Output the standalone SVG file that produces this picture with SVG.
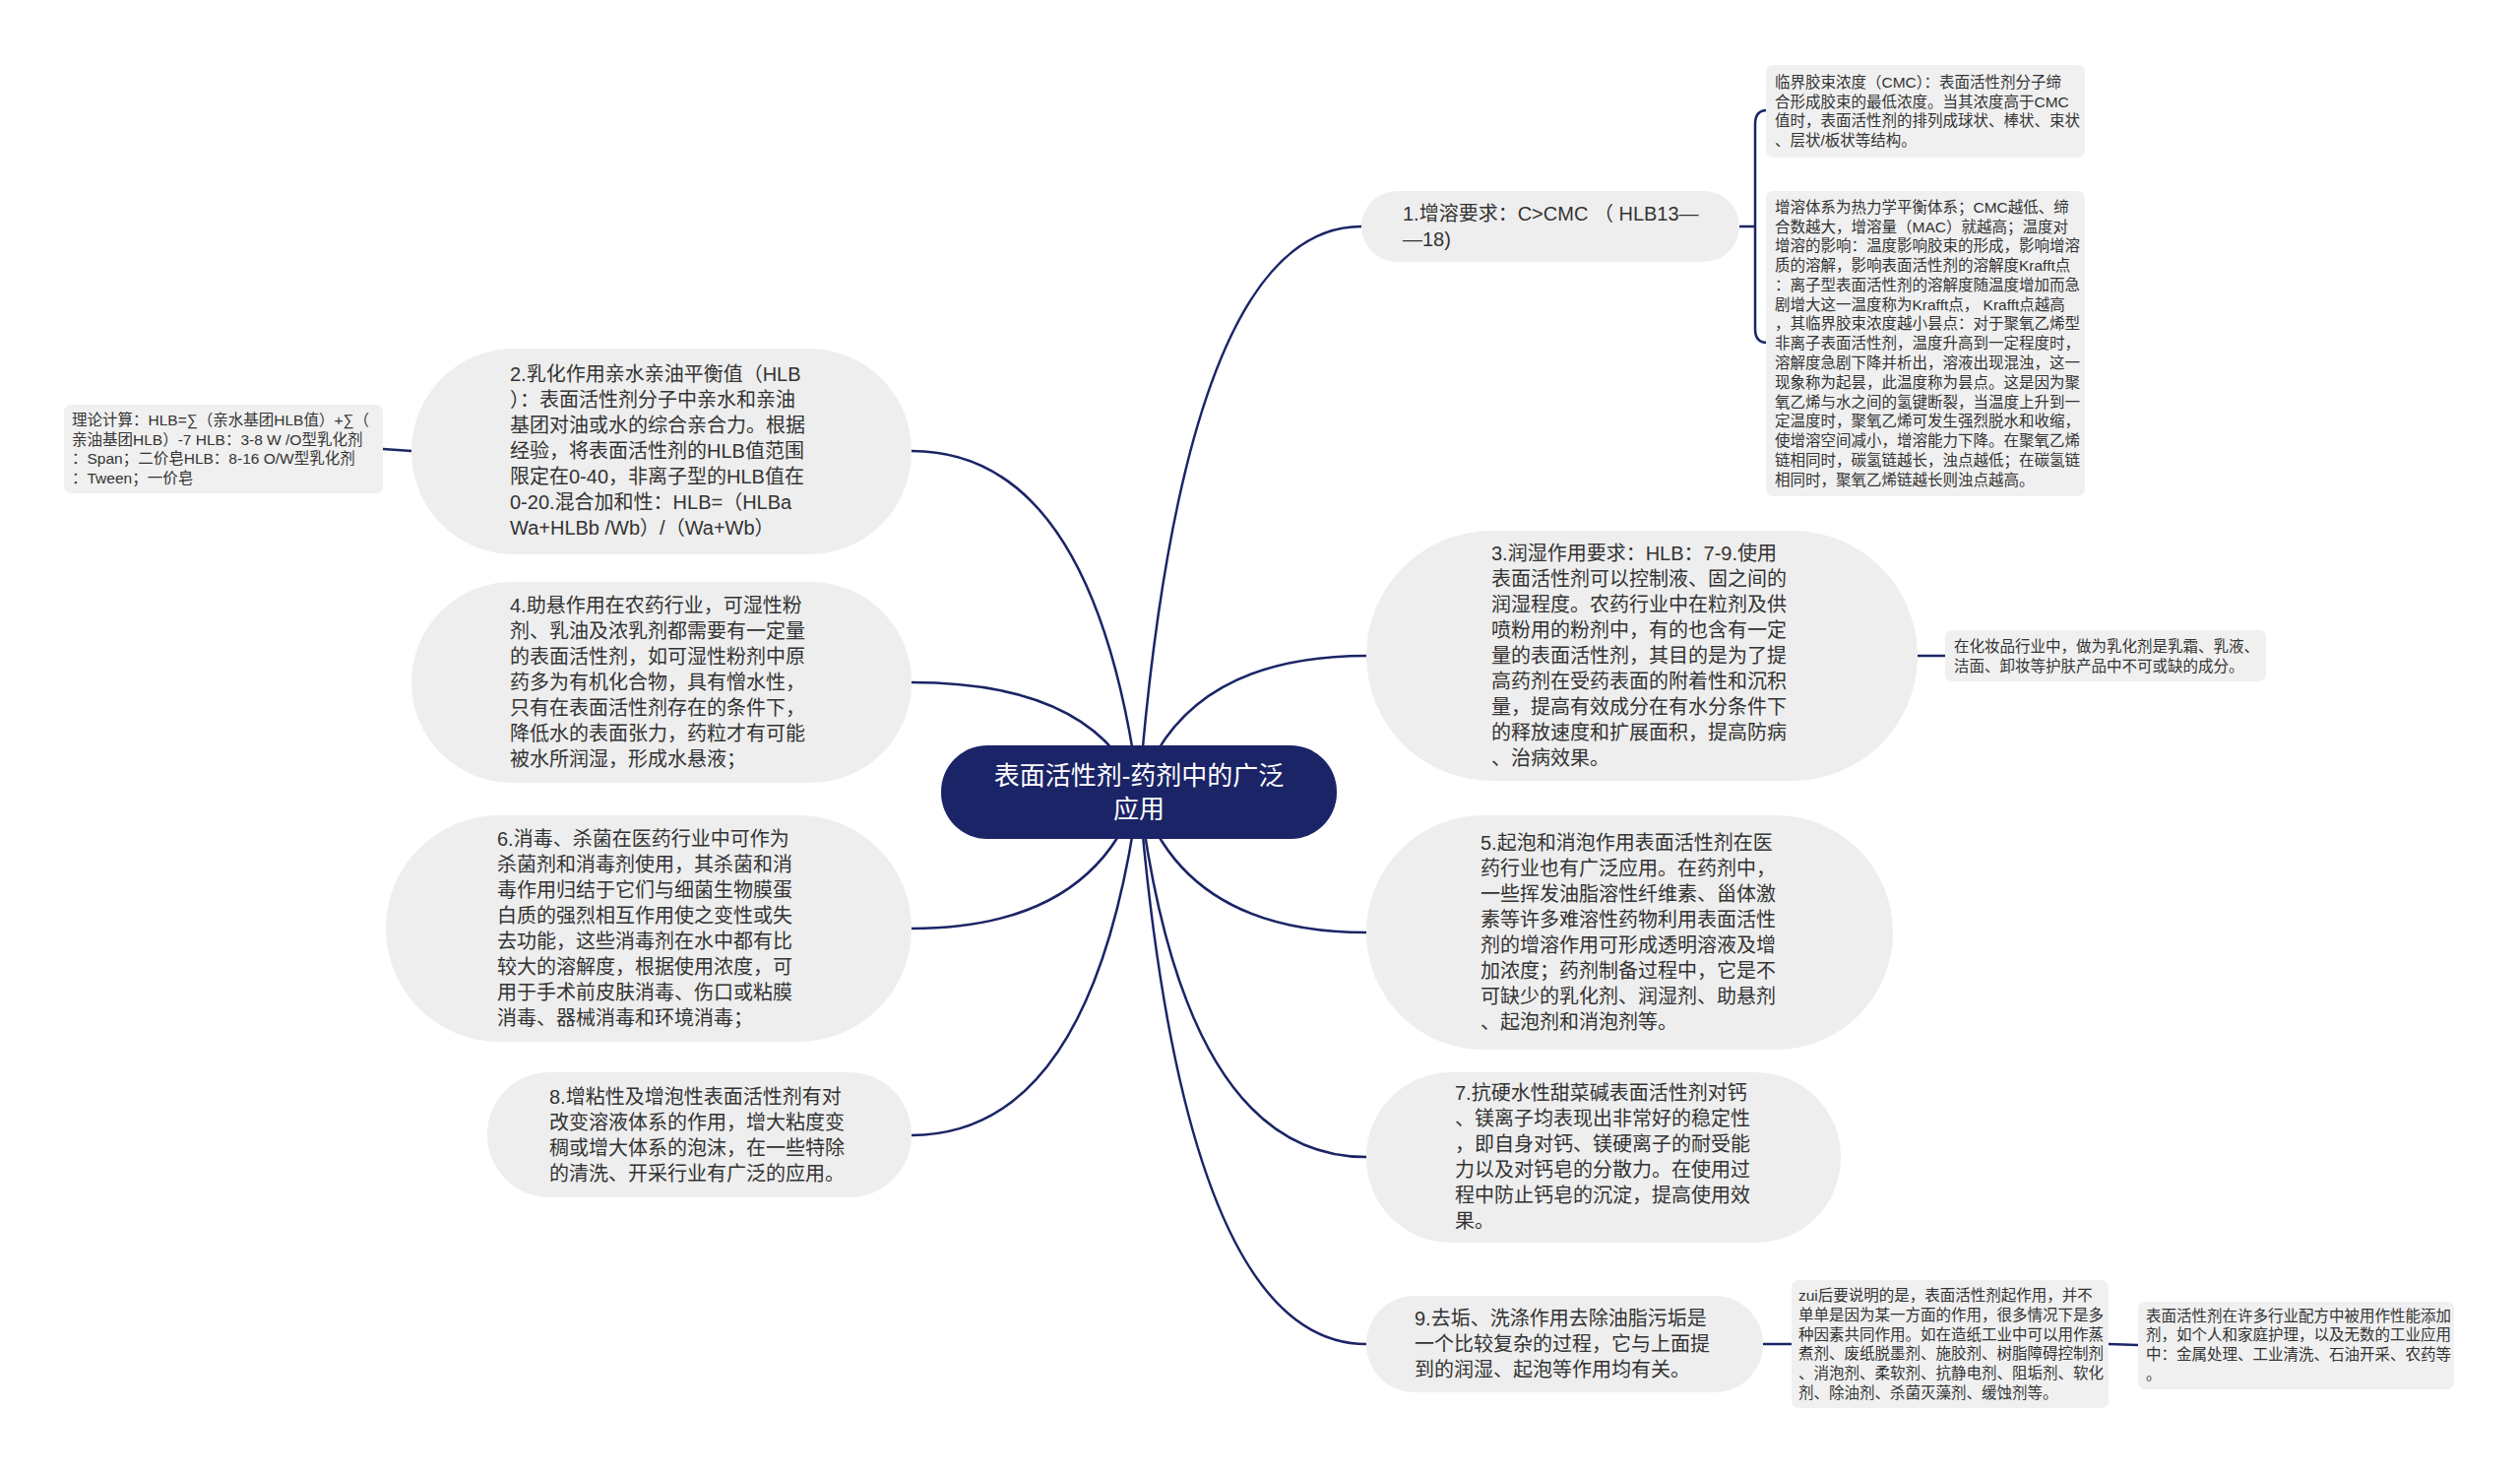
<svg xmlns="http://www.w3.org/2000/svg" width="2560" height="1499" viewBox="0 0 2560 1499">
<style>
.bg{fill:#ffffff}
.main{fill:#eeeeee}
.sub{fill:#f0f0f0}
.t{font-family:"Liberation Sans","Noto Sans CJK SC",sans-serif;font-size:20px;fill:#333333}
.s{font-family:"Liberation Sans","Noto Sans CJK SC",sans-serif;font-size:15.5px;fill:#333333}
.c{font-family:"Liberation Sans","Noto Sans CJK SC",sans-serif;font-size:26px;fill:#ffffff}
.ln{fill:none;stroke:#1b2466;stroke-width:2.5}
</style>
<rect class="bg" x="0" y="0" width="2560" height="1499"/>
<g id="connectors">
<path class="ln" d="M1157 804 Q1203 230 1383 230"/>
<path class="ln" d="M1157 804 Q1203 666 1388 666"/>
<path class="ln" d="M1157 804 Q1203 947 1388 947"/>
<path class="ln" d="M1157 804 Q1203 1175 1388 1175"/>
<path class="ln" d="M1157 804 Q1203 1365 1388 1365"/>
<path class="ln" d="M1157 804 Q1111 458 926 458"/>
<path class="ln" d="M1157 804 Q1111 693 926 693"/>
<path class="ln" d="M1157 804 Q1111 943 926 943"/>
<path class="ln" d="M1157 804 Q1111 1153 926 1153"/>
<path class="ln" d="M1767 230 L1783 230 M1795 112 Q1783 112 1783 126 L1783 334 Q1783 348 1795 348"/>
<path class="ln" d="M1948 666 L1976 666"/>
<path class="ln" d="M1791 1365 L1820 1365"/>
<path class="ln" d="M2142 1365 L2172 1366"/>
<path class="ln" d="M418 458 L389 456"/>
</g>
<g id="center">
<rect x="956" y="757" width="402" height="95" rx="47" fill="#1b2466"/>
<text class="c" text-anchor="middle"><tspan x="1157" y="797">表面活性剂-药剂中的广泛</tspan><tspan x="1157" y="831">应用</tspan></text>
</g>
<g id="n1">
<rect class="main" x="1383" y="194" width="384" height="72" rx="36"/>
<text class="t"><tspan x="1425" y="224">1.增溶要求：C&gt;CMC （ HLB13—</tspan><tspan x="1425" y="250">—18)</tspan></text>
</g>
<g id="n1a">
<rect class="sub" x="1794" y="66" width="324" height="94" rx="7"/>
<text class="s"><tspan x="1803" y="89">临界胶束浓度（CMC）：表面活性剂分子缔</tspan><tspan x="1803" y="109">合形成胶束的最低浓度。当其浓度高于CMC</tspan><tspan x="1803" y="128">值时，表面活性剂的排列成球状、棒状、束状</tspan><tspan x="1803" y="148">、层状/板状等结构。</tspan></text>
</g>
<g id="n1b">
<rect class="sub" x="1794" y="194" width="324" height="310" rx="7"/>
<text class="s"><tspan x="1803" y="216">增溶体系为热力学平衡体系；CMC越低、缔</tspan><tspan x="1803" y="236">合数越大，增溶量（MAC）就越高；温度对</tspan><tspan x="1803" y="255">增溶的影响：温度影响胶束的形成，影响增溶</tspan><tspan x="1803" y="275">质的溶解，影响表面活性剂的溶解度Krafft点</tspan><tspan x="1803" y="295">：离子型表面活性剂的溶解度随温度增加而急</tspan><tspan x="1803" y="315">剧增大这一温度称为Krafft点， Krafft点越高</tspan><tspan x="1803" y="334">，其临界胶束浓度越小昙点：对于聚氧乙烯型</tspan><tspan x="1803" y="354">非离子表面活性剂，温度升高到一定程度时，</tspan><tspan x="1803" y="374">溶解度急剧下降并析出，溶液出现混浊，这一</tspan><tspan x="1803" y="394">现象称为起昙，此温度称为昙点。这是因为聚</tspan><tspan x="1803" y="414">氧乙烯与水之间的氢键断裂，当温度上升到一</tspan><tspan x="1803" y="433">定温度时，聚氧乙烯可发生强烈脱水和收缩，</tspan><tspan x="1803" y="453">使增溶空间减小，增溶能力下降。在聚氧乙烯</tspan><tspan x="1803" y="473">链相同时，碳氢链越长，浊点越低；在碳氢链</tspan><tspan x="1803" y="493">相同时，聚氧乙烯链越长则浊点越高。</tspan></text>
</g>
<g id="n3">
<rect class="main" x="1388" y="539" width="560" height="254" rx="127"/>
<text class="t"><tspan x="1515" y="569">3.润湿作用要求：HLB：7-9.使用</tspan><tspan x="1515" y="595">表面活性剂可以控制液、固之间的</tspan><tspan x="1515" y="621">润湿程度。农药行业中在粒剂及供</tspan><tspan x="1515" y="647">喷粉用的粉剂中，有的也含有一定</tspan><tspan x="1515" y="673">量的表面活性剂，其目的是为了提</tspan><tspan x="1515" y="699">高药剂在受药表面的附着性和沉积</tspan><tspan x="1515" y="725">量，提高有效成分在有水分条件下</tspan><tspan x="1515" y="751">的释放速度和扩展面积，提高防病</tspan><tspan x="1515" y="777">、治病效果。</tspan></text>
</g>
<g id="n3a">
<rect class="sub" x="1976" y="640" width="326" height="52" rx="7"/>
<text class="s"><tspan x="1985" y="662">在化妆品行业中，做为乳化剂是乳霜、乳液、</tspan><tspan x="1985" y="682">洁面、卸妆等护肤产品中不可或缺的成分。</tspan></text>
</g>
<g id="n5">
<rect class="main" x="1388" y="828" width="535" height="238" rx="119"/>
<text class="t"><tspan x="1504" y="863">5.起泡和消泡作用表面活性剂在医</tspan><tspan x="1504" y="889">药行业也有广泛应用。在药剂中，</tspan><tspan x="1504" y="915">一些挥发油脂溶性纤维素、甾体激</tspan><tspan x="1504" y="941">素等许多难溶性药物利用表面活性</tspan><tspan x="1504" y="967">剂的增溶作用可形成透明溶液及增</tspan><tspan x="1504" y="993">加浓度；药剂制备过程中，它是不</tspan><tspan x="1504" y="1019">可缺少的乳化剂、润湿剂、助悬剂</tspan><tspan x="1504" y="1045">、起泡剂和消泡剂等。</tspan></text>
</g>
<g id="n7">
<rect class="main" x="1388" y="1089" width="482" height="173" rx="86"/>
<text class="t"><tspan x="1478" y="1117">7.抗硬水性甜菜碱表面活性剂对钙</tspan><tspan x="1478" y="1143">、镁离子均表现出非常好的稳定性</tspan><tspan x="1478" y="1169">，即自身对钙、镁硬离子的耐受能</tspan><tspan x="1478" y="1195">力以及对钙皂的分散力。在使用过</tspan><tspan x="1478" y="1221">程中防止钙皂的沉淀，提高使用效</tspan><tspan x="1478" y="1247">果。</tspan></text>
</g>
<g id="n9">
<rect class="main" x="1388" y="1316" width="403" height="98" rx="49"/>
<text class="t"><tspan x="1437" y="1346">9.去垢、洗涤作用去除油脂污垢是</tspan><tspan x="1437" y="1372">一个比较复杂的过程，它与上面提</tspan><tspan x="1437" y="1398">到的润湿、起泡等作用均有关。</tspan></text>
</g>
<g id="n9a">
<rect class="sub" x="1820" y="1300" width="322" height="130" rx="7"/>
<text class="s"><tspan x="1827" y="1321">zui后要说明的是，表面活性剂起作用，并不</tspan><tspan x="1827" y="1341">单单是因为某一方面的作用，很多情况下是多</tspan><tspan x="1827" y="1361">种因素共同作用。如在造纸工业中可以用作蒸</tspan><tspan x="1827" y="1380">煮剂、废纸脱墨剂、施胶剂、树脂障碍控制剂</tspan><tspan x="1827" y="1400">、消泡剂、柔软剂、抗静电剂、阻垢剂、软化</tspan><tspan x="1827" y="1420">剂、除油剂、杀菌灭藻剂、缓蚀剂等。</tspan></text>
</g>
<g id="n9b">
<rect class="sub" x="2172" y="1322" width="321" height="89" rx="7"/>
<text class="s"><tspan x="2180" y="1342">表面活性剂在许多行业配方中被用作性能添加</tspan><tspan x="2180" y="1361">剂，如个人和家庭护理，以及无数的工业应用</tspan><tspan x="2180" y="1381">中：金属处理、工业清洗、石油开采、农药等</tspan><tspan x="2180" y="1401">。</tspan></text>
</g>
<g id="n2">
<rect class="main" x="418" y="354" width="508" height="209" rx="104"/>
<text class="t"><tspan x="518" y="387">2.乳化作用亲水亲油平衡值（HLB</tspan><tspan x="518" y="413">）：表面活性剂分子中亲水和亲油</tspan><tspan x="518" y="439">基团对油或水的综合亲合力。根据</tspan><tspan x="518" y="465">经验，将表面活性剂的HLB值范围</tspan><tspan x="518" y="491">限定在0-40，非离子型的HLB值在</tspan><tspan x="518" y="517">0-20.混合加和性：HLB=（HLBa</tspan><tspan x="518" y="543">Wa+HLBb /Wb）/（Wa+Wb）</tspan></text>
</g>
<g id="n2a">
<rect class="sub" x="65" y="411" width="324" height="90" rx="7"/>
<text class="s"><tspan x="73" y="432">理论计算：HLB=∑（亲水基团HLB值）+∑（</tspan><tspan x="73" y="452">亲油基团HLB）-7 HLB：3-8 W /O型乳化剂</tspan><tspan x="73" y="471">：Span；二价皂HLB：8-16 O/W型乳化剂</tspan><tspan x="73" y="491">：Tween；一价皂</tspan></text>
</g>
<g id="n4">
<rect class="main" x="418" y="591" width="508" height="204" rx="102"/>
<text class="t"><tspan x="518" y="622">4.助悬作用在农药行业，可湿性粉</tspan><tspan x="518" y="648">剂、乳油及浓乳剂都需要有一定量</tspan><tspan x="518" y="674">的表面活性剂，如可湿性粉剂中原</tspan><tspan x="518" y="700">药多为有机化合物，具有憎水性，</tspan><tspan x="518" y="726">只有在表面活性剂存在的条件下，</tspan><tspan x="518" y="752">降低水的表面张力，药粒才有可能</tspan><tspan x="518" y="778">被水所润湿，形成水悬液；</tspan></text>
</g>
<g id="n6">
<rect class="main" x="392" y="828" width="534" height="230" rx="115"/>
<text class="t"><tspan x="505" y="859">6.消毒、杀菌在医药行业中可作为</tspan><tspan x="505" y="885">杀菌剂和消毒剂使用，其杀菌和消</tspan><tspan x="505" y="911">毒作用归结于它们与细菌生物膜蛋</tspan><tspan x="505" y="937">白质的强烈相互作用使之变性或失</tspan><tspan x="505" y="963">去功能，这些消毒剂在水中都有比</tspan><tspan x="505" y="989">较大的溶解度，根据使用浓度，可</tspan><tspan x="505" y="1015">用于手术前皮肤消毒、伤口或粘膜</tspan><tspan x="505" y="1041">消毒、器械消毒和环境消毒；</tspan></text>
</g>
<g id="n8">
<rect class="main" x="495" y="1089" width="431" height="127" rx="63"/>
<text class="t"><tspan x="558" y="1121">8.增粘性及增泡性表面活性剂有对</tspan><tspan x="558" y="1147">改变溶液体系的作用，增大粘度变</tspan><tspan x="558" y="1173">稠或增大体系的泡沫，在一些特除</tspan><tspan x="558" y="1199">的清洗、开采行业有广泛的应用。</tspan></text>
</g>
</svg>
